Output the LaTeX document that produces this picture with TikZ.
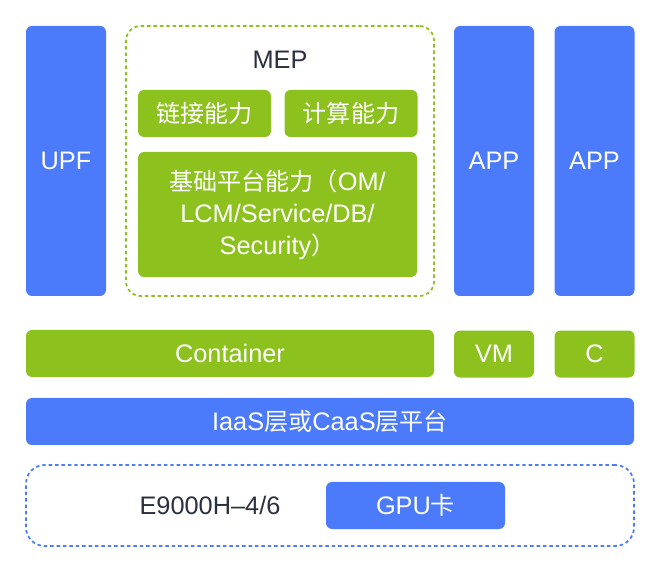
\documentclass[tikz,border=0pt]{standalone}
\usepackage{fontspec}
\setmainfont{Liberation Sans}
\newfontfamily\cjk[Scale=0.95]{Noto Sans CJK SC}
\usetikzlibrary{positioning}
\definecolor{mecblue}{RGB}{75,123,250}
\definecolor{mecgreen}{RGB}{140,193,30}
\definecolor{labelcolor}{RGB}{43,48,64}

\begin{document}
\begin{tikzpicture}[
    x=0.75pt, y=-0.75pt,
    node distance=25.5pt and 15pt,
    bluebox/.style={rectangle, fill=mecblue, rounded corners=4.5pt, inner sep=0pt, text=white, align=center, font=\fontsize{19}{24}\selectfont},
    greenbox/.style={rectangle, fill=mecgreen, rounded corners=4.5pt, inner sep=0pt, text=white, align=center, font=\fontsize{19}{24}\selectfont},
    groupbox/.style={rectangle, draw, line width=1.3pt, dash pattern=on 2.6pt off 2.2pt, rounded corners=11pt, inner sep=0pt},
    label/.style={text=labelcolor, font=\fontsize{19}{24}\selectfont}
]
\useasboundingbox (0,0) rectangle (658,588);

% upper part: UPF, MEP, APPs
\node[bluebox, minimum width=60pt, minimum height=202.5pt] (upf) at (66,161) {UPF};
\node[groupbox, draw=mecgreen, minimum width=231pt, minimum height=202.5pt] (mep) at (280,161) {};
\node[label] (meplabel) at (280,60) {MEP};
\node[greenbox, minimum width=99.75pt, minimum height=35.25pt] (link) at (204.5,113.5) {\cjk 链接能力};
\node[greenbox, minimum width=99.75pt, minimum height=35.25pt, right=9.75pt of link] (compute) {\cjk 计算能力};
\node[greenbox, minimum width=209.25pt, minimum height=93.75pt] (base) at (277.5,214.5) {{\cjk 基础平台能力（}OM/\\LCM/Service/DB/\\Security{\cjk ）}};
\node[bluebox, minimum width=60pt, minimum height=202.5pt] (app1) at (494,161) {APP};
\node[bluebox, minimum width=60pt, minimum height=202.5pt, right=15pt of app1] (app2) {APP};

% virtualisation layer
\node[greenbox, minimum width=306pt, minimum height=35.25pt] (container) at (230,353.5) {Container};
\node[greenbox, minimum width=60pt, minimum height=35.25pt, below=25.5pt of app1] (vm) {VM};
\node[greenbox, minimum width=60pt, minimum height=35.25pt, below=25.5pt of app2] (c) {C};
\node[bluebox, minimum width=456pt, minimum height=35.25pt] (iaas) at (330,421.5) {IaaS{\cjk 层或}CaaS{\cjk 层平台}};

% hardware
\node[groupbox, draw=mecblue, minimum width=456pt, minimum height=60.75pt, rounded corners=14pt] (hw) at (330,505.5) {};
\node[label] (e9000) at (210,505) {E9000H–4/6};
\node[bluebox, minimum width=134.25pt, minimum height=35.25pt] (gpu) at (415.5,505.5) {GPU{\cjk 卡}};

\end{tikzpicture}
\end{document}
